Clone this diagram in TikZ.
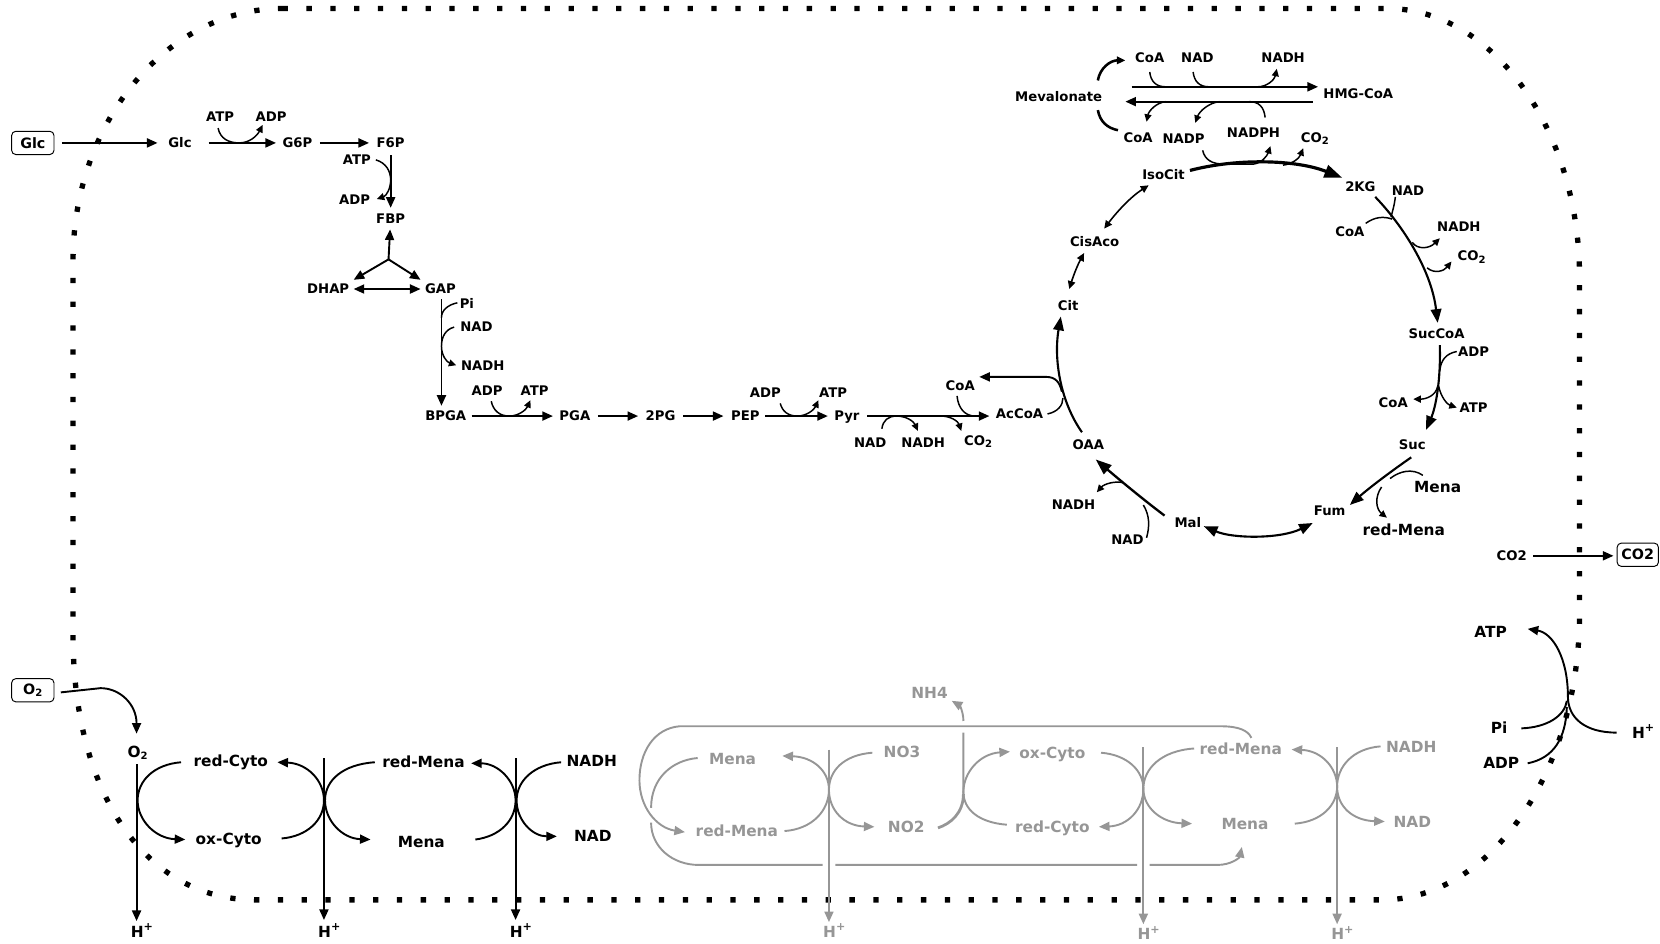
\documentclass[tikz,border=0pt]{standalone}
\usepackage{fontspec}
\setmainfont{DejaVu Sans}
\usetikzlibrary{arrows.meta}
\definecolor{gr}{RGB}{150,150,150}
\newcommand\mysub[1]{\raisebox{-0.3ex}{\fontsize{9.5}{9.5}\selectfont #1}}
\newcommand\mysup[1]{\raisebox{0.75ex}{\fontsize{10.5}{10.5}\selectfont #1}}
\begin{document}
\begin{tikzpicture}[x=1pt,y=-1pt,
  lbl/.style={font=\fontsize{12.5}{14}\selectfont\bfseries, text height=9pt, text depth=0pt, inner sep=4pt},
  blbl/.style={font=\fontsize{14.5}{16}\selectfont\bfseries, text height=10.5pt, text depth=0pt, inner sep=2pt},
  glbl/.style={blbl, text=gr},
  extbox/.style={draw, rounded corners=4pt, line width=0.9pt, minimum width=40pt, minimum height=22pt, inner sep=1pt, font=\fontsize{13.5}{14}\selectfont\bfseries},
  arr/.style={-{Triangle[length=10pt,width=8.5pt]}, line width=1.8pt},
  darr/.style={{Triangle[length=10pt,width=8.5pt]}-{Triangle[length=10pt,width=8.5pt]}, line width=1.8pt},
  sarr/.style={-{Triangle[length=7pt,width=6.5pt]}, line width=1.4pt},
  sdarr/.style={{Triangle[length=7.5pt,width=7pt]}-{Triangle[length=7.5pt,width=7pt]}, line width=1.5pt},
  sln/.style={line width=1.4pt},
  barr/.style={-{Triangle[length=13pt,width=10pt]}, line width=2pt},
  bdarr/.style={{Triangle[length=13pt,width=10pt]}-{Triangle[length=13pt,width=10pt]}, line width=2pt},
  mem/.style={line width=5pt, dash pattern=on 5pt off 17.5pt},
  garr/.style={arr, color=gr},
  gln/.style={line width=1.8pt, color=gr},
]
\useasboundingbox (0,0) rectangle (1568,891);
% ---------------- membrane ----------------
\draw[mem] (267,8) -- (1310,8) .. controls (1410,8) and (1492,122) .. (1492,262)
  -- (1492,579) .. controls (1492,729) and (1408,850) .. (1305,850)
  -- (241,850) .. controls (138,850) and (69,750) .. (69,600)
  -- (69,246) .. controls (69,115) and (158,8) .. (267,8);

% ---------------- glycolysis ----------------
\node[extbox] (glcout) at (31,135) {Glc};
\node[lbl] (glc) at (170,135) {Glc};
\node[lbl] (g6p) at (281,135) {G6P};
\node[lbl] (f6p) at (369,135) {F6P};
\node[lbl] (fbp) at (369,207) {FBP};
\node[lbl] (dhap) at (310,273) {DHAP};
\node[lbl] (gap) at (416,273) {GAP};
\node[lbl] (bpga) at (421,393) {BPGA};
\node[lbl] (pga) at (543,393) {PGA};
\node[lbl] (pg2) at (624,393) {2PG};
\node[lbl] (pep) at (704,393) {PEP};
\node[lbl] (pyr) at (800,393) {Pyr};
\node[lbl] (accoa) at (963,391) {AcCoA};

\node[lbl] (atp1) at (208,110) {ATP};
\node[lbl] (adp1) at (256,110) {ADP};
\node[lbl] (atp2) at (337,151) {ATP};
\node[lbl] (adp2) at (335,189) {ADP};
\node[lbl] (pi1) at (441,287) {Pi};
\node[lbl] (nad1) at (450,309) {NAD};
\node[lbl] (nadh1) at (456,345) {NADH};
\node[lbl] (adp3) at (460,369) {ADP};
\node[lbl] (atp3) at (505,369) {ATP};
\node[lbl] (adp4) at (723,371) {ADP};
\node[lbl] (atp4) at (787,371) {ATP};
\node[lbl] (nad2) at (822,418) {NAD};
\node[lbl] (nadh2) at (872,418) {NADH};
\node[lbl] (co2a) at (924,416) {CO\mysub{2}};
\node[lbl] (coa1) at (907,364) {CoA};

\draw[arr] ([xshift=7pt]glcout.east) -- ([xshift=-6pt]glc.west);
\draw[arr, shorten <=12pt, shorten >=2pt] (glc) -- (g6p);
\draw[arr, shorten <=3pt, shorten >=3pt] (g6p) -- (f6p);
\draw[arr, shorten <=3pt, shorten >=2pt] (f6p) -- (fbp);
\coordinate (fj) at (367,245);
\draw[arr, shorten >=1pt] (fj) -- (fbp);
\draw[arr] (fj) -- (dhap.north east);
\draw[arr] (fj) -- (gap.north west);
\draw[darr] (dhap) -- (gap);
\draw[arr, shorten <=1pt, shorten >=1pt] ([xshift=1pt]gap.south) -- ([xshift=1pt]gap.south |- bpga.north);
\draw[arr, shorten <=1pt, shorten >=2pt] (bpga) -- (pga);
\draw[arr, shorten <=3pt, shorten >=3pt] (pga) -- (pg2);
\draw[arr, shorten <=3pt, shorten >=3pt] (pg2) -- (pep);
\draw[arr, shorten <=1pt, shorten >=2pt] (pep) -- (pyr);
\draw[arr, shorten <=3pt, shorten >=2pt] (pyr) -- (accoa.west |- pyr);

\draw[sarr] (206,121) .. controls (208,131) and (216,135) .. (226,135) .. controls (236,135) and (243,128) .. (248,118);
\draw[sarr] (355,151) .. controls (365,154) and (369,162) .. (369,170) .. controls (369,178) and (365,185) .. (356,188);
\draw[sln] (432,286) .. controls (423,288) and (417,293) .. (417,300);
\draw[sarr] (429,309) .. controls (421,311) and (417,318) .. (417,327) .. controls (417,336) and (422,342) .. (431,345);
\draw[sarr] (464,379) .. controls (466,388) and (472,393) .. (481,393) .. controls (490,393) and (497,387) .. (501,378);
\draw[sarr] (737,381) .. controls (739,389) and (745,393) .. (753,393) .. controls (762,393) and (769,387) .. (773,378);
\draw[sarr] (833,405) .. controls (834,397) and (839,393) .. (847,393) .. controls (856,393) and (863,398) .. (867,407);
\draw[sarr] (889,393) .. controls (898,393) and (905,398) .. (908,407);
\draw[sln] (904,374) .. controls (905,385) and (911,393) .. (921,393);

% ---------------- TCA ----------------
\node[lbl] (cit) at (1009,289) {Cit};
\node[lbl] (cisaco) at (1034,228) {CisAco};
\node[lbl] (isocit) at (1099,165) {IsoCit};
\node[lbl] (kg) at (1285,176) {2KG};
\node[lbl] (succoa) at (1357,315) {SucCoA};
\node[lbl] (suc) at (1334,420) {Suc};
\node[lbl] (fum) at (1256,482) {Fum};
\node[lbl] (mal) at (1122,494) {Mal};
\node[lbl] (oaa) at (1028,420) {OAA};

\node[lbl] (nadp) at (1118,131) {NADP};
\node[lbl] (nadph) at (1184,125) {NADPH};
\node[lbl] (co2b) at (1242,130) {CO\mysub{2}};
\node[lbl] (nad3) at (1330,180) {NAD};
\node[lbl] (coa2) at (1275,219) {CoA};
\node[lbl] (nadh3) at (1378,214) {NADH};
\node[lbl] (co2c) at (1390,242) {CO\mysub{2}};
\node[lbl] (adp5) at (1392,332) {ADP};
\node[lbl] (coa3) at (1316,380) {CoA};
\node[lbl] (atp5) at (1392,385) {ATP};
\node[blbl] (mena3) at (1358,460) {Mena};
\node[blbl] (redmena3) at (1326,501) {red-Mena};
\node[lbl] (nadh4) at (1014,477) {NADH};
\node[lbl] (nad4) at (1065,510) {NAD};

\coordinate (coaend) at (925,356);
\draw[arr] (1003,370) .. controls (1001,361) and (997,356) .. (988,356) -- (coaend);
\draw[sln] (accoa.east) .. controls (999,389) and (1004,383) .. (1004,376);
\draw[barr] (oaa.north) ++(-6,-3) .. controls (1002,380) and (995,340) .. (1002,299);
\draw[sdarr] (1010,273) .. controls (1014,260) and (1018,250) .. (1024,239);
\draw[sdarr] (1043,216) .. controls (1055,200) and (1068,186) .. (1085,175);
\draw[-{Triangle[length=17pt,width=12pt]}, line width=3pt] (1124,161) .. controls (1170,149) and (1225,151) .. (1268,168);
\draw[sarr] (1136,142) .. controls (1138,151) and (1145,155) .. (1156,155) -- (1184,155) .. controls (1192,154) and (1197,147) .. (1200,138);
\draw[sarr] (1212,156) .. controls (1220,155) and (1227,150) .. (1231,140);
\draw[barr] (1299,186) .. controls (1325,213) and (1352,255) .. (1358,305);
\draw[sln] (1318,186) .. controls (1317,195) and (1315,200) .. (1314,205);
\draw[sln] (1290,211) .. controls (1298,205) and (1307,204) .. (1315,207);
\draw[sarr] (1334,229) .. controls (1339,236) and (1350,235) .. (1360,225);
\draw[sarr] (1348,253) .. controls (1355,259) and (1364,256) .. (1371,247);
\draw[barr] (1360,326) .. controls (1361,360) and (1356,385) .. (1347,406);
\draw[sln] (1376,332) .. controls (1366,334) and (1361,340) .. (1360,350);
\draw[sarr] (1358,365) .. controls (1356,374) and (1347,377) .. (1335,377);
\draw[sarr] (1359,365) .. controls (1361,375) and (1367,382) .. (1376,385);
\draw[barr] (1333,432) .. controls (1310,448) and (1292,462) .. (1275,477);
\draw[sln] (1344,449) .. controls (1334,442) and (1322,445) .. (1313,452);
\draw[sarr] (1305,460) .. controls (1298,470) and (1300,481) .. (1310,489);
\draw[bdarr] (1137,497) .. controls (1165,509) and (1210,509) .. (1240,494);
\draw[-{Triangle[length=15pt,width=11pt]}, line width=2.2pt] (1100,487) .. controls (1080,472) and (1056,452) .. (1035,434);
\draw[sln] (1083,508) .. controls (1086,497) and (1086,487) .. (1080,477);
\draw[sarr] (1061,456) .. controls (1054,454) and (1043,457) .. (1036,465);

% ---------------- mevalonate ----------------
\node[lbl] (mev) at (1000,91) {Mevalonate};
\node[lbl] (hmg) at (1283,89) {HMG-CoA};
\node[lbl] (coa4) at (1086,55) {CoA};
\node[lbl] (nad5) at (1131,55) {NAD};
\node[lbl] (nadh5) at (1212,55) {NADH};
\node[lbl] (coa5) at (1075,130) {CoA};

\draw[arr] (1069,82) -- (1245,82);
\draw[arr] (1240,96) -- (1063,96);
\draw[sln] (1086,68) .. controls (1087,77) and (1092,82) .. (1101,82);
\draw[sln] (1127,68) .. controls (1128,77) and (1133,82) .. (1142,82);
\draw[sarr] (1188,82) .. controls (1197,82) and (1204,75) .. (1206,65);
\draw[sarr] (1101,96) .. controls (1092,97) and (1085,105) .. (1083,115);
\draw[sarr] (1152,96) .. controls (1142,97) and (1133,105) .. (1129,116);
\draw[sln] (1195,111) .. controls (1194,101) and (1189,96) .. (1180,96);
\draw[-{Triangle[length=8pt,width=7pt]}, line width=2.4pt] (1037,76) .. controls (1039,64) and (1049,57) .. (1063,57);
\draw[line width=2.4pt] (1037,104) .. controls (1039,115) and (1046,121) .. (1056,123);

% ---------------- CO2 export ----------------
\node[lbl] (co2in) at (1428,525) {CO2};
\node[extbox, minimum width=39pt] (co2out) at (1547,524) {CO2};
\draw[arr, shorten <=2pt, shorten >=3pt] (co2in) -- (co2out.west |- co2in);

% ---------------- ATP synthase ----------------
\node[blbl] (atp6) at (1408,597) {ATP};
\node[blbl] (pi2) at (1416,688) {Pi};
\node[blbl] (adp6) at (1418,721) {ADP};
\node[blbl] (h4) at (1552,692) {H\mysup{+}};
\draw[arr] (1527,692) .. controls (1497,692) and (1481,678) .. (1481,658) .. controls (1481,622) and (1467,598) .. (1443,594);
\draw[line width=1.8pt] (1437,688) .. controls (1462,687) and (1478,676) .. (1480,662);
\draw[line width=1.8pt] (1443,721) .. controls (1468,716) and (1479,697) .. (1480,668);

% ---------------- aerobic respiration ----------------
\node[extbox] (o2box) at (31,652) {O\mysub{2}};
\node[blbl] (o2) at (130,710) {O\mysub{2}};
\node[blbl] (redcyto) at (218,719) {red-Cyto};
\node[blbl] (oxcyto) at (216,792) {ox-Cyto};
\node[blbl] (redmena) at (400,720) {red-Mena};
\node[blbl] (mena) at (398,795) {Mena};
\node[blbl] (nadhb) at (559,719) {NADH};
\node[blbl] (nadb) at (560,790) {NAD};
\node[blbl] (h1) at (134,880) {H\mysup{+}};
\node[blbl] (h2) at (311,880) {H\mysup{+}};
\node[blbl] (h3) at (492,880) {H\mysup{+}};

\draw[arr] ([xshift=6pt,yshift=-2pt]o2box.east) -- (95,650) .. controls (113,650) and (129,665) .. (129,693);
\draw[arr] (129,722) -- (129,870);
\draw[arr] (171,720) .. controls (146,722) and (130,737) .. (130,756) .. controls (130,775) and (147,792) .. (175,793);
\draw[arr] (306,716) -- (306,869);
\draw[arr] (266,792) .. controls (290,790) and (306,775) .. (306,756) .. controls (306,737) and (290,721) .. (262,720);
\draw[arr] (354,720) .. controls (324,722) and (307,737) .. (307,756) .. controls (307,775) and (323,792) .. (350,793);
\draw[arr] (487,716) -- (487,869);
\draw[arr] (449,793) .. controls (472,790) and (487,775) .. (487,756) .. controls (487,737) and (470,721) .. (445,721);
\draw[arr] (530,720) .. controls (505,722) and (488,737) .. (488,756) .. controls (488,775) and (503,790) .. (526,790);

% ---------------- nitrate respiration (grey) ----------------
\node[glbl] (gmena1) at (692,717) {Mena};
\node[glbl] (gredmena1) at (696,785) {red-Mena};
\node[glbl] (no3) at (852,710) {NO3};
\node[glbl] (no2) at (856,781) {NO2};
\node[glbl] (nh4) at (878,655) {NH4};
\node[glbl] (goxcyto) at (994,711) {ox-Cyto};
\node[glbl] (gredcyto) at (994,781) {red-Cyto};
\node[glbl] (gredmena2) at (1172,707) {red-Mena};
\node[glbl] (gmena2) at (1176,778) {Mena};
\node[glbl] (gnadh) at (1333,706) {NADH};
\node[glbl] (gnad) at (1334,776) {NAD};
\node[glbl] (hg1) at (788,880) {H\mysup{+}};
\node[glbl] (hg2) at (1085,882) {H\mysup{+}};
\node[glbl] (hg3) at (1268,882) {H\mysup{+}};

\draw[garr] (1182,697) .. controls (1179,690) and (1170,686) .. (1153,686) -- (642,686) .. controls (618,688) and (604,710) .. (604,737) .. controls (604,762) and (620,782) .. (647,786);
\draw[gln] (659,716) .. controls (635,718) and (615,735) .. (615,763);
\draw[garr] (615,777) .. controls (615,800) and (635,817) .. (660,817) -- (777,817) (789,817) -- (1074,817) (1086,817) -- (1150,817) .. controls (1163,817) and (1171,810) .. (1173,800);
\draw[garr] (783,708) -- (783,871);
\draw[garr] (824,711) .. controls (797,713) and (783,728) .. (783,746) .. controls (783,765) and (797,780) .. (826,781);
\draw[garr] (741,785) .. controls (768,783) and (783,765) .. (783,746) .. controls (783,728) and (768,715) .. (739,714);
\draw[gln, line width=2.6pt] (886,782) .. controls (898,778) and (910,768) .. (910,750);
\draw[garr] (910,752) -- (910,692) (910,681) .. controls (910,672) and (906,666) .. (899,662);
\draw[garr] (951,779) .. controls (925,777) and (910,765) .. (910,748) .. controls (910,730) and (925,712) .. (954,710);
\draw[garr] (1080,706) -- (1080,873);
\draw[garr] (1040,711) .. controls (1065,713) and (1080,728) .. (1080,745) .. controls (1080,765) and (1065,780) .. (1038,781);
\draw[garr] (1128,707) .. controls (1097,709) and (1080,726) .. (1080,745) .. controls (1080,763) and (1097,777) .. (1126,778);
\draw[garr] (1263,706) -- (1263,873);
\draw[garr] (1223,778) .. controls (1249,776) and (1263,760) .. (1263,743) .. controls (1263,725) and (1248,709) .. (1220,708);
\draw[garr] (1304,705) .. controls (1278,707) and (1263,724) .. (1263,743) .. controls (1263,762) and (1278,775) .. (1308,776);
\end{tikzpicture}
\end{document}
